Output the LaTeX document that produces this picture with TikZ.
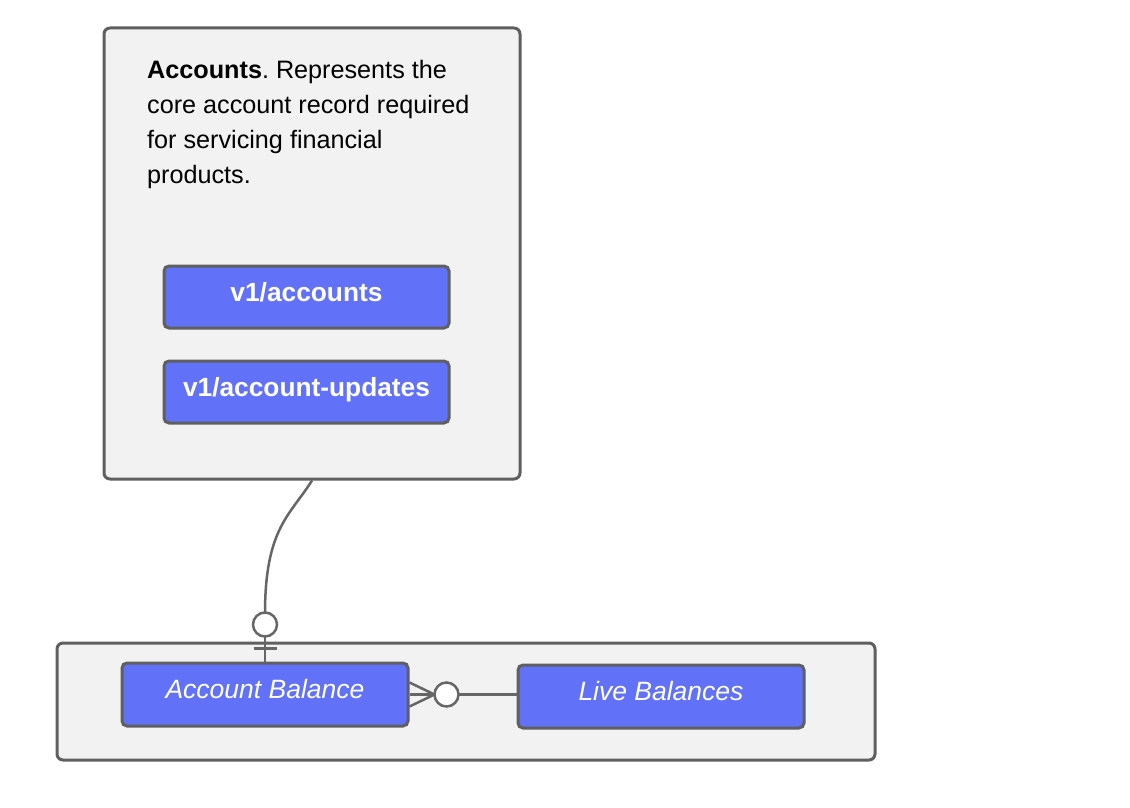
\documentclass[tikz,border=0pt]{standalone}
\usepackage{fontspec}
\setmainfont{Liberation Sans}
\usetikzlibrary{calc}
\frenchspacing
\definecolor{boxgray}{HTML}{F2F2F2}
\definecolor{edgegray}{HTML}{5F5F5F}
\definecolor{linegray}{HTML}{666666}
\definecolor{apiblue}{HTML}{6272F8}
\tikzset{
  container/.style={draw=edgegray, line width=3pt, fill=boxgray, rounded corners=6pt, inner sep=0pt},
  apibox/.style={draw=edgegray, line width=3pt, fill=apiblue, rounded corners=5pt, inner sep=0pt,
    minimum width=285pt, minimum height=62pt, text=white,
    text height=18pt, text depth=10pt},
  conn/.style={draw=linegray, line width=2.5pt},
  endcircle/.style={draw=linegray, line width=2.5pt, fill=white}
}
\begin{document}
\begin{tikzpicture}[x=1pt,y=-1pt]
\useasboundingbox (0,0) rectangle (1130,808);
\fill[white] (0,0) rectangle (1130,808);
% containers
\node[container, minimum width=416pt, minimum height=451pt] (acc) at (312,253.5) {};
\node[container, minimum width=818pt, minimum height=117pt] (bottom) at (466,701.5) {};
% description
\node[anchor=north west, inner sep=0pt, align=left, font=\fontsize{25.2}{35}\selectfont] (desc) at (147,60)
  {\textbf{Accounts}. Represents the\\core account record required\\for servicing financial\\products.};
% api boxes
\node[apibox, font=\bfseries\fontsize{26.3}{30}\selectfont] (v1acc) at (306.5,297) {v1/accounts};
\node[apibox, font=\bfseries\fontsize{26.3}{30}\selectfont] (v1upd) at (306.5,392) {v1/account-updates};
\node[apibox, minimum width=286pt, minimum height=63pt, font=\itshape\fontsize{26.5}{30}\selectfont] (ab) at (265,694.5) {Account Balance};
\node[apibox, minimum width=286pt, minimum height=63pt, font=\itshape\fontsize{26.5}{30}\selectfont] (lb) at (661,696.5) {Live Balances};
% connector accounts -> account balance (zero or one)
\coordinate (c1) at ($(ab.north)+(0,-48)$);
\coordinate (c1c) at ($(ab.north)+(0,-37)$);
\coordinate (bar) at ($(ab.north)+(0,-13)$);
\draw[conn] (acc.south) .. controls +(-22,35) and +(0,-85) .. (c1);
\draw[conn] ($(c1c)+(0,12)$) -- (ab.north);
\draw[conn] ($(bar)+(-11.5,0)$) -- ($(bar)+(11.5,0)$);
\draw[endcircle] (c1c) circle (12);
% connector account balance -> live balances (zero or many)
\coordinate (cf) at ($(ab.east)+(25,0)$);
\coordinate (c2c) at ($(ab.east)+(37,0)$);
\draw[conn] ($(ab.east)+(0,-12)$) -- (cf) -- ($(ab.east)+(0,12)$);
\draw[conn] (ab.east) -- (cf);
\draw[conn] ($(c2c)+(12,0)$) -- (lb.west |- ab.east);
\draw[endcircle] (c2c) circle (12);
\end{tikzpicture}
\end{document}
